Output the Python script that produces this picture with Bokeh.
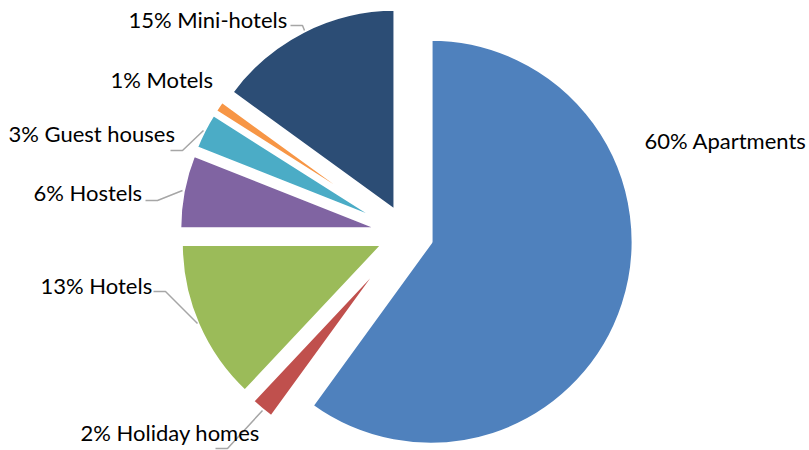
import numpy as np
from bokeh.plotting import figure
from bokeh.models import ColumnDataSource, Range1d
from bokeh.core.properties import value
from bokeh.embed import file_html
from bokeh.resources import INLINE

# ---- data ----
categories = ["Apartments", "Holiday homes", "Hotels", "Hostels", "Guest houses", "Motels", "Mini-hotels"]
shares = [60, 2, 13, 6, 3, 1, 15]
colors = ["#4F81BD", "#C0504D", "#9BBB59", "#8064A2", "#4BACC6", "#F79646", "#2C4D75"]

# ---- layout (pixel-like coordinates, y measured from the top) ----
W, H = 809, 450
CX, CY = 406.3, 233.5
R = 203
EXPLODE = 25
label_pos = [(644, 140), (80, 432), (40, 285), (33, 192), (8, 133), (110, 79), (128, 19)]
leaders = [None,
           [(215, 448), (227, 448), (262, 410)],
           [(153, 291), (165, 291), (197, 323)],
           [(145, 200), (157, 200), (182, 190)],
           [(170, 150), (182, 150), (203, 130)],
           None,
           [(290, 25), (302, 25), (304, 30)]]

vals = np.array(shares, dtype=float)
frac = vals / vals.sum()
a1 = np.cumsum(frac) * 2 * np.pi          # clockwise from 12 o'clock
a0 = a1 - frac * 2 * np.pi
mid = (a0 + a1) / 2

cy_data = H - CY
src = ColumnDataSource(dict(
    x=CX + EXPLODE * np.sin(mid),
    y=cy_data + EXPLODE * np.cos(mid),
    start=np.pi / 2 - a1,
    end=np.pi / 2 - a0,
    color=colors,
))

p = figure(width=W, height=H, x_range=Range1d(0, W), y_range=Range1d(0, H),
           x_axis_type=None, y_axis_type=None, toolbar_location=None,
           output_backend="svg", min_border=0, outline_line_color=None)
p.grid.visible = False
p.background_fill_color = "white"

p.wedge(x="x", y="y", radius=R, start_angle="start", end_angle="end",
        fill_color="color", line_color="white", line_width=4, source=src)

for pts in leaders:
    if pts:
        p.line([q[0] for q in pts], [H - q[1] for q in pts], line_color="#A6A6A6", line_width=1.5)

labels = [f"{v}% {c}" for v, c in zip(shares, categories)]
p.text(x=[q[0] for q in label_pos], y=[H - q[1] for q in label_pos], text=labels,
       text_font=value("Lato"), text_font_size="22px", text_color="#000000",
       text_align="left", text_baseline="middle")

open("out.html", "w").write(file_html(p, INLINE))
